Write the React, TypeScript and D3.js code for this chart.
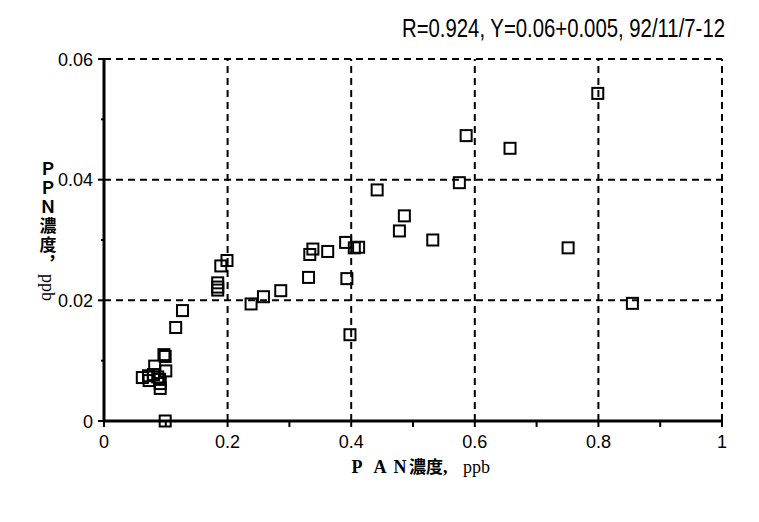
import React from "react";
import * as d3 from "d3";

const panValues = [
  0.799, 0.586, 0.657, 0.575, 0.442, 0.486, 0.478, 0.532, 0.751, 0.855,
  0.338, 0.333, 0.362, 0.391, 0.405, 0.412, 0.331, 0.393, 0.398,
  0.286, 0.258, 0.238, 0.199, 0.189, 0.184, 0.184, 0.184, 0.127, 0.116,
  0.097, 0.099, 0.082, 0.100, 0.062, 0.072, 0.080, 0.087, 0.090, 0.073, 0.091, 0.091, 0.099,
];
const ppnValues = [
  0.0543, 0.0473, 0.0452, 0.0395, 0.0383, 0.034, 0.0315, 0.030, 0.0287, 0.0195,
  0.0285, 0.0276, 0.0281, 0.0296, 0.0287, 0.0288, 0.0238, 0.0236, 0.0143,
  0.0216, 0.0206, 0.0194, 0.0266, 0.0257, 0.0229, 0.0222, 0.0217, 0.0183, 0.0155,
  0.0110, 0.0107, 0.0091, 0.0083, 0.0072, 0.0075, 0.0077, 0.0073, 0.0069, 0.0067, 0.0062, 0.0054, 0.0,
];
const xTicks = [0, 0.2, 0.4, 0.6, 0.8, 1];
const xTickLabels = ["0", "0.2", "0.4", "0.6", "0.8", "1"];
const yTicks = [0, 0.02, 0.04, 0.06];
const yTickLabels = ["0", "0.02", "0.04", "0.06"];
const titleText = "R=0.924, Y=0.06+0.005, 92/11/7-12";

export default function App() {
  const x = d3.scaleLinear().domain([0, 1]).range([104, 722]);
  const y = d3.scaleLinear().domain([0, 0.06]).range([421, 59]);
  const minorX = d3.range(0, 1.0001, 0.1);
  const minorY = d3.range(0, 0.0601, 0.01);
  const sq = 11;
  const num = "'Liberation Sans', Arial, sans-serif";
  const serif = "'Liberation Serif', 'DejaVu Serif', serif";
  const cjk = "'Noto Sans CJK JP', 'Noto Sans CJK SC', sans-serif";
  const titleScale = 0.8;
  return (
    <svg
      width={759}
      height={522}
      style={{ position: "absolute", left: 0, top: 0, background: "#fff" }}
    >
      <rect x={0} y={0} width={759} height={522} fill="#fff" />
      {/* title */}
      <g transform={`translate(402,37) scale(${titleScale},1)`}>
        <text
          x={0}
          y={0}
          fontFamily={num}
          fontSize={25}
          textLength={323 / titleScale}
          lengthAdjust="spacingAndGlyphs"
          fill="#000"
        >
          {titleText}
        </text>
      </g>
      {/* grid */}
      {xTicks.slice(1).map((t, i) => (
        <line
          key={"gx" + i}
          x1={x(t)}
          x2={x(t)}
          y1={y(0)}
          y2={y(0.06)}
          stroke="#000"
          strokeWidth={2}
          strokeDasharray="7 5"
        />
      ))}
      {yTicks.slice(1).map((t, i) => (
        <line
          key={"gy" + i}
          x1={x(0)}
          x2={x(1)}
          y1={y(t)}
          y2={y(t)}
          stroke="#000"
          strokeWidth={2}
          strokeDasharray="7 5"
        />
      ))}
      {/* axes */}
      <line x1={x(0)} x2={x(0)} y1={y(0.06) - 1} y2={y(0) + 1} stroke="#000" strokeWidth={3} />
      <line x1={x(0) - 1} x2={x(1) + 1} y1={y(0)} y2={y(0)} stroke="#000" strokeWidth={3} />
      {minorX.map((t, i) => (
        <line key={"tx" + i} x1={x(t)} x2={x(t)} y1={y(0)} y2={y(0) + 6} stroke="#000" strokeWidth={2} />
      ))}
      {minorY.map((t, i) => (
        <line
          key={"ty" + i}
          x1={x(0) - (i % 2 === 0 ? 6 : 3)}
          x2={x(0)}
          y1={y(t)}
          y2={y(t)}
          stroke="#000"
          strokeWidth={2}
        />
      ))}
      {/* tick labels */}
      {xTicks.map((t, i) => (
        <text
          key={"lx" + i}
          x={x(t)}
          y={448}
          textAnchor="middle"
          fontFamily={num}
          fontSize={18}
          fill="#000"
        >
          {xTickLabels[i]}
        </text>
      ))}
      {yTicks.map((t, i) => (
        <text
          key={"ly" + i}
          x={93}
          y={y(t) + 6.5}
          textAnchor="end"
          fontFamily={num}
          fontSize={18}
          fill="#000"
        >
          {yTickLabels[i]}
        </text>
      ))}
      {/* x axis title */}
      <g fill="#000">
        <text x={357} y={473} textAnchor="middle" fontFamily={serif} fontWeight={700} fontSize={18}>P</text>
        <text x={380} y={473} textAnchor="middle" fontFamily={serif} fontWeight={700} fontSize={18}>A</text>
        <text x={400} y={473} textAnchor="middle" fontFamily={serif} fontWeight={700} fontSize={18}>N</text>
        <text x={409} y={473} fontFamily={cjk} fontWeight={700} fontSize={17}>濃度</text>
        <text x={443} y={473} fontFamily={serif} fontWeight={700} fontSize={18}>,</text>
        <text x={463} y={473} fontFamily={serif} fontSize={18}>ppb</text>
      </g>
      {/* y axis title: vertical writing */}
      <text
        x={48}
        y={160}
        fill="#000"
        fontSize={17}
        style={{ writingMode: "vertical-rl" }}
      >
        <tspan fontFamily={cjk} fontWeight={700} letterSpacing={2}>ＰＰＮ濃度，</tspan>
        <tspan fontFamily={serif} fontSize={18}>ppb</tspan>
      </text>
      {/* points */}
      {panValues.map((v, i) => (
        <rect
          key={"p" + i}
          x={x(v) - sq / 2}
          y={y(ppnValues[i]) - sq / 2}
          width={sq}
          height={sq}
          fill="none"
          stroke="#000"
          strokeWidth={2}
        />
      ))}
    </svg>
  );
}
